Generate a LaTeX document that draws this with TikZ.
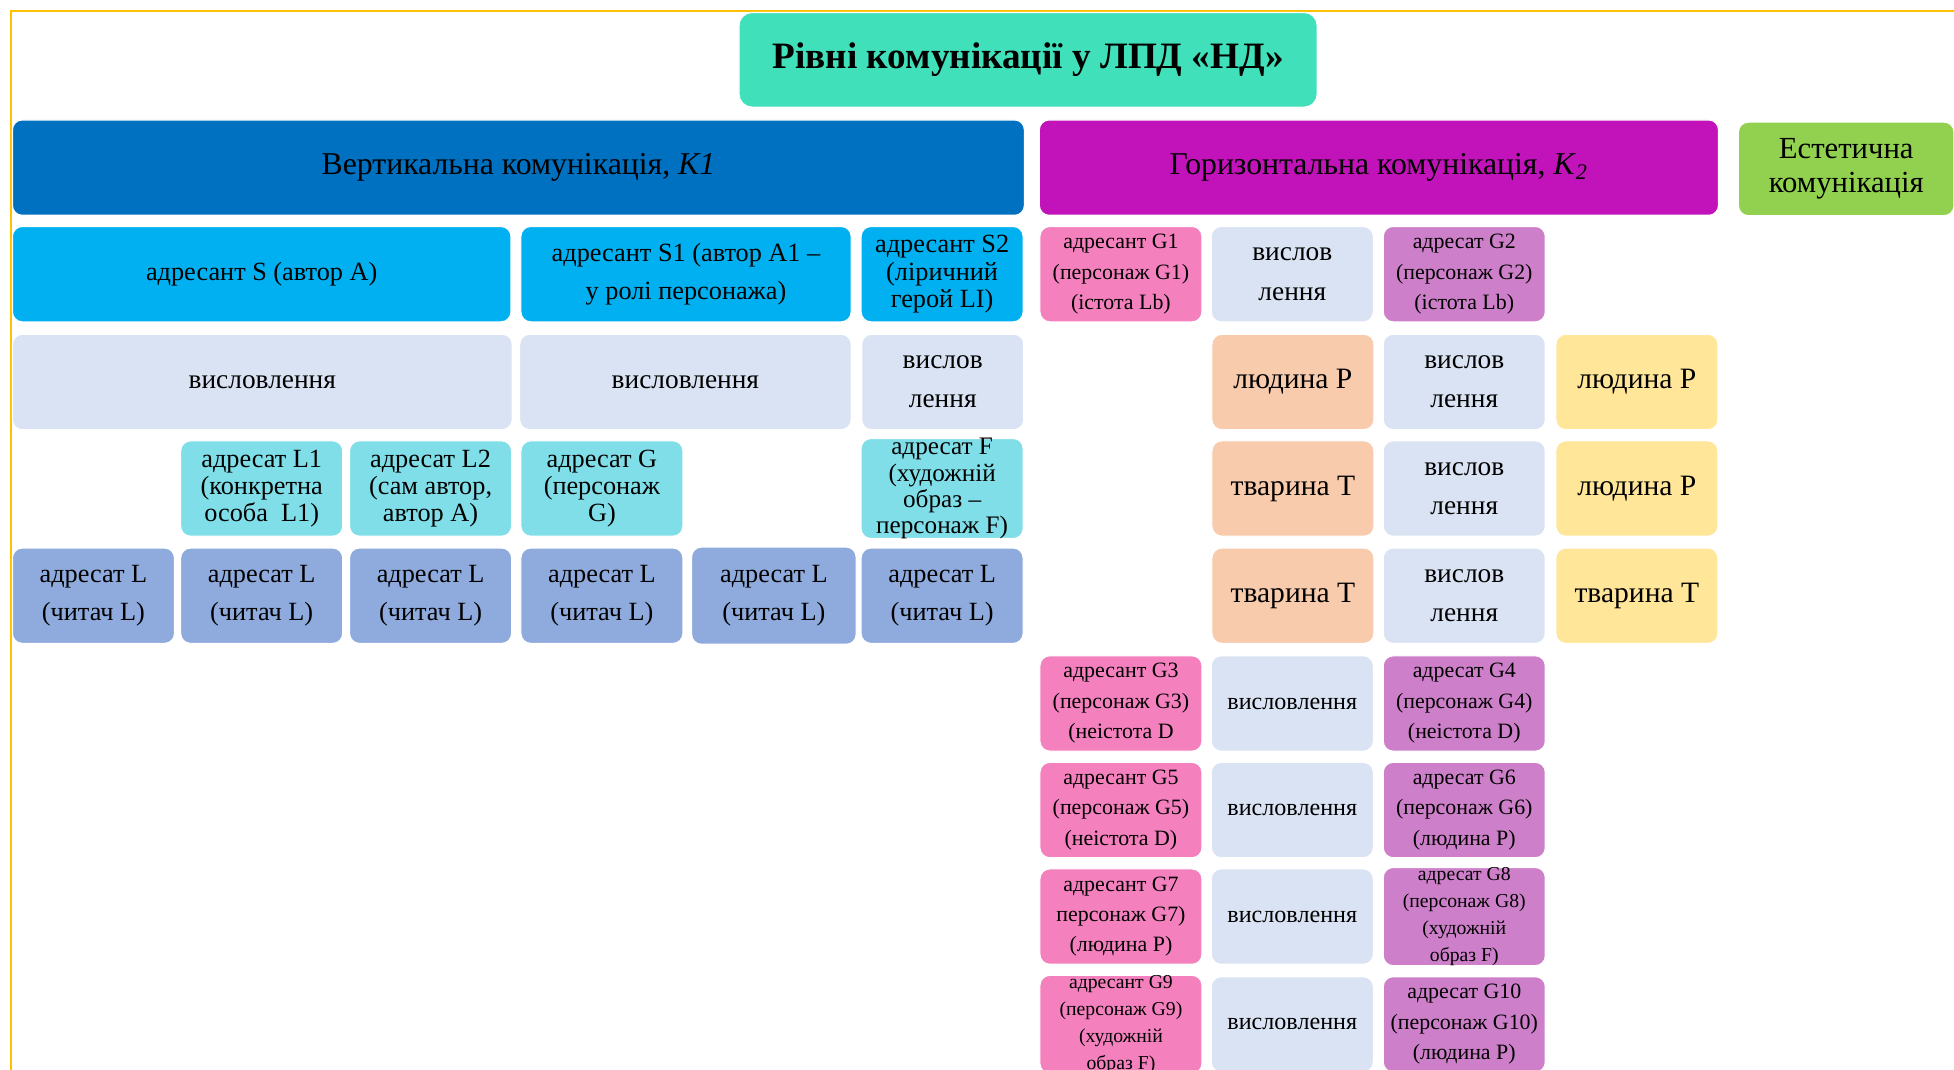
\documentclass[tikz,border=0pt]{standalone}
\usepackage{fontspec}
\setmainfont{Liberation Serif}
\usetikzlibrary{positioning}
\definecolor{zolotyi}{HTML}{FFC000}
\definecolor{biruza}{HTML}{40E0BA}
\definecolor{syniy}{HTML}{0070C0}
\definecolor{purpur}{HTML}{C212B9}
\definecolor{zelenyi}{HTML}{92D050}
\definecolor{blakyt}{HTML}{00B0F0}
\definecolor{blidyi}{HTML}{DAE3F3}
\definecolor{morskyi}{HTML}{80DEE8}
\definecolor{lavanda}{HTML}{8FAADC}
\definecolor{rozhevyi}{HTML}{F481BE}
\definecolor{buzkovyi}{HTML}{CD80C9}
\definecolor{persyk}{HTML}{F8CBAD}
\definecolor{zhovtyi}{HTML}{FFE699}

\begin{document}
\begin{tikzpicture}[
  blok/.style={draw=white, line width=0.5pt, rounded corners=4.5pt, align=center,
    inner sep=0pt, minimum width=2.6cm, minimum height=1.53cm},
  osn/.style={font=\fontsize{12}{17.6}\selectfont},
  tisn/.style={font=\fontsize{12}{12.4}\selectfont},
  dribn/.style={font=\fontsize{10}{13.9}\selectfont},
  mini/.style={font=\fontsize{9}{12.3}\selectfont},
  vysl/.style={blok, fill=blidyi, font=\fontsize{12.5}{18}\selectfont},
  vysl2/.style={blok, fill=blidyi, font=\fontsize{11}{13}\selectfont},
  istota/.style={blok, font=\fontsize{13.5}{16}\selectfont}]
  \clip (0,0) rectangle (31.36,-17.16);
  % ramka
  \draw[zolotyi, line width=1.2pt] (0.176,-17.3) -- (0.176,-0.176) -- (31.5,-0.176);
  % zagolovok
  \node[blok, fill=biruza, minimum width=9.28cm, minimum height=1.52cm, rounded corners=6pt,
    font=\fontsize{17}{20}\selectfont\bfseries] (tytul) at (16.5,-0.96)
    {Рівні комунікації у ЛПД «НД»};
  % try vydy
  \node[blok, fill=syniy, minimum width=16.24cm, font=\fontsize{14.5}{17}\selectfont] (vert) at (8.32,-2.69)
    {Вертикальна комунікація, \textit{K1}};
  \node[blok, fill=purpur, minimum width=10.9cm, font=\fontsize{14.5}{17}\selectfont] (hor) at (22.13,-2.69)
    {Горизонтальна комунікація, \textit{K}\textsubscript{\textit{2}}};
  \node[blok, fill=zelenyi, minimum width=3.46cm, minimum height=1.5cm, font=\fontsize{14}{15.5}\selectfont] (est) at (29.63,-2.71)
    {Естетична\\комунікація};
  % vertykalna
  \node[blok, osn, fill=blakyt, minimum width=8.0cm] (adrS) at (4.2,-4.4) {адресант S (автор А)};
  \node[blok, osn, fill=blakyt, minimum width=5.3cm] (adrS1) at (11.01,-4.4) {адресант S1 (автор А1 –\\у ролі персонажа)};
  \node[blok, tisn, fill=blakyt] (adrS2) at (15.12,-4.4) {адресант S2\\(ліричний\\герой LI)};
  \node[vysl, minimum width=8.02cm] (vyslS) at (4.21,-6.13) {висловлення};
  \node[vysl, minimum width=5.32cm] (vyslS1) at (11.0,-6.13) {висловлення};
  \node[vysl] (vyslS2) at (15.13,-6.13) {вислов\\лення};
  \node[blok, tisn, fill=morskyi] (adrL1) at (4.2,-7.84) {адресат L1\\(конкретна\\особа \ L1)};
  \node[blok, tisn, fill=morskyi] (adrL2) at (6.91,-7.84) {адресат L2\\(сам автор,\\автор А)};
  \node[blok, tisn, fill=morskyi] (adrG) at (9.66,-7.84) {адресат G\\(персонаж\\G)};
  \node[blok, fill=morskyi, font=\fontsize{11.5}{11.9}\selectfont] (adrF) at (15.12,-7.84) {адресат F\\(художній\\образ –\\персонаж F)};
  \node[blok, osn, fill=lavanda] (chyt1) at (1.5,-9.56) {адресат L\\(читач L)};
  \node[blok, osn, fill=lavanda] (chyt2) at (4.2,-9.56) {адресат L\\(читач L)};
  \node[blok, osn, fill=lavanda] (chyt3) at (6.91,-9.56) {адресат L\\(читач L)};
  \node[blok, osn, fill=lavanda] (chyt4) at (9.66,-9.56) {адресат L\\(читач L)};
  \node[blok, osn, fill=lavanda, minimum width=2.64cm, minimum height=1.56cm] (chyt5) at (12.42,-9.56) {адресат L\\(читач L)};
  \node[blok, osn, fill=lavanda] (chyt6) at (15.12,-9.56) {адресат L\\(читач L)};
  % horyzontalna
  \node[blok, dribn, fill=rozhevyi] (g1) at (17.99,-4.4) {адресант G1\\(персонаж G1)\\(істота Lb)};
  \node[vysl] (vyslG1) at (20.74,-4.4) {вислов\\лення};
  \node[blok, dribn, fill=buzkovyi] (g2) at (23.5,-4.4) {адресат G2\\(персонаж G2)\\(істота Lb)};
  \node[istota, fill=persyk] (lyud1) at (20.75,-6.13) {людина P};
  \node[vysl] (vyslP1) at (23.5,-6.13) {вислов\\лення};
  \node[istota, fill=zhovtyi] (lyud2) at (26.27,-6.13) {людина P};
  \node[istota, fill=persyk] (tvar1) at (20.75,-7.84) {тварина T};
  \node[vysl] (vyslP2) at (23.5,-7.84) {вислов\\лення};
  \node[istota, fill=zhovtyi] (lyud3) at (26.27,-7.84) {людина P};
  \node[istota, fill=persyk] (tvar2) at (20.75,-9.56) {тварина T};
  \node[vysl] (vyslP3) at (23.5,-9.56) {вислов\\лення};
  \node[istota, fill=zhovtyi] (tvar3) at (26.27,-9.56) {тварина T};
  \node[blok, dribn, fill=rozhevyi] (g3) at (17.99,-11.29) {адресант G3\\(персонаж G3)\\(неістота D};
  \node[vysl2] (vyslG3) at (20.74,-11.29) {висловлення};
  \node[blok, dribn, fill=buzkovyi] (g4) at (23.5,-11.29) {адресат G4\\(персонаж G4)\\(неістота D)};
  \node[blok, dribn, fill=rozhevyi] (g5) at (17.99,-13.0) {адресант G5\\(персонаж G5)\\(неістота D)};
  \node[vysl2] (vyslG5) at (20.74,-13.0) {висловлення};
  \node[blok, dribn, fill=buzkovyi] (g6) at (23.5,-13.0) {адресат G6\\(персонаж G6)\\(людина P)};
  \node[blok, dribn, fill=rozhevyi] (g7) at (17.99,-14.71) {адресант G7\\персонаж G7)\\(людина P)};
  \node[vysl2] (vyslG7) at (20.74,-14.71) {висловлення};
  \node[blok, mini, fill=buzkovyi] (g8) at (23.5,-14.71) {адресат G8\\(персонаж G8)\\(художній\\образ F)};
  \node[blok, mini, fill=rozhevyi] (g9) at (17.99,-16.44) {адресант G9\\(персонаж G9)\\(художній\\образ F)};
  \node[vysl2] (vyslG9) at (20.74,-16.44) {висловлення};
  \node[blok, dribn, fill=buzkovyi] (g10) at (23.5,-16.44) {адресат G10\\(персонаж G10)\\(людина P)};
\end{tikzpicture}
\end{document}
